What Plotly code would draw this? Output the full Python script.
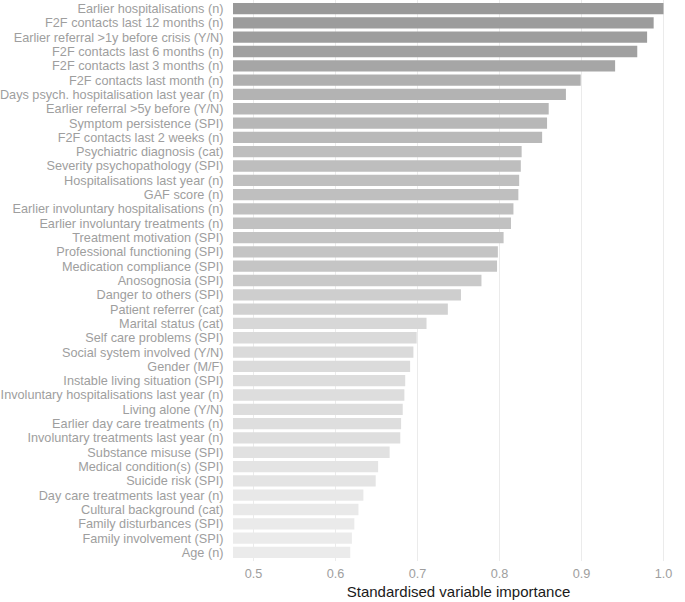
import plotly.graph_objs as go

# variables, top to bottom
variables = [
    'Earlier hospitalisations (n)',
    'F2F contacts last 12 months (n)',
    'Earlier referral >1y before crisis (Y/N)',
    'F2F contacts last 6 months (n)',
    'F2F contacts last 3 months (n)',
    'F2F contacts last month (n)',
    'Days psych. hospitalisation last year (n)',
    'Earlier referral >5y before (Y/N)',
    'Symptom persistence (SPI)',
    'F2F contacts last 2 weeks (n)',
    'Psychiatric diagnosis (cat)',
    'Severity psychopathology (SPI)',
    'Hospitalisations last year (n)',
    'GAF score (n)',
    'Earlier involuntary hospitalisations (n)',
    'Earlier involuntary treatments (n)',
    'Treatment motivation (SPI)',
    'Professional functioning (SPI)',
    'Medication compliance (SPI)',
    'Anosognosia (SPI)',
    'Danger to others (SPI)',
    'Patient referrer (cat)',
    'Marital status (cat)',
    'Self care problems (SPI)',
    'Social system involved (Y/N)',
    'Gender (M/F)',
    'Instable living situation (SPI)',
    'Involuntary hospitalisations last year (n)',
    'Living alone (Y/N)',
    'Earlier day care treatments (n)',
    'Involuntary treatments last year (n)',
    'Substance misuse (SPI)',
    'Medical condition(s) (SPI)',
    'Suicide risk (SPI)',
    'Day care treatments last year (n)',
    'Cultural background (cat)',
    'Family disturbances (SPI)',
    'Family involvement (SPI)',
    'Age (n)',
]

importance = [
    1.000, 0.988, 0.980, 0.968, 0.941, 0.899, 0.881, 0.860, 0.858, 0.852,
    0.827, 0.826, 0.824, 0.823, 0.817, 0.814, 0.805, 0.798, 0.797, 0.778,
    0.753, 0.737, 0.711, 0.699, 0.695, 0.691, 0.685, 0.684, 0.682, 0.680,
    0.679, 0.666, 0.652, 0.649, 0.634, 0.628, 0.623, 0.620, 0.618,
]

x_ticks = [0.5, 0.6, 0.7, 0.8, 0.9, 1.0]

fig = go.Figure()
fig.add_trace(go.Bar(
    x=importance, y=variables, orientation='h', width=0.79,
    marker={'color': importance,
            'colorscale': [[0, '#ebebeb'], [1, '#999999']],
            'line': {'width': 0}},
    showlegend=False,
))

fig.update_layout(
    width=685, height=602,
    margin={'l': 233, 'r': 1, 't': 0, 'b': 41},
    paper_bgcolor='white', plot_bgcolor='white',
    font={'family': 'Liberation Sans, Arial', 'size': 12.7, 'color': '#9e9e9e'},
    xaxis={'range': [0.475, 1.025], 'tickvals': x_ticks,
           'ticktext': ['%.1f' % t for t in x_ticks],
           'showgrid': True, 'gridcolor': '#ebebeb', 'gridwidth': 1,
           'zeroline': False, 'showline': False, 'automargin': False,
           'ticks': 'outside', 'ticklen': 1, 'tickcolor': 'rgba(0,0,0,0)',
           'title': {'text': 'Standardised variable importance',
                     'font': {'size': 15, 'color': '#1a1a1a'},
                     'standoff': 6}},
    yaxis={'range': [38.6, -0.6], 'showgrid': False, 'zeroline': False,
           'automargin': False,
           'tickmode': 'array', 'tickvals': variables,
           'ticks': 'outside', 'ticklen': 6, 'tickcolor': 'rgba(0,0,0,0)',
           'categoryorder': 'array', 'categoryarray': variables},
)

# page has a default 8px body margin, drop it so the figure fills the window
fig.write_html('out.html', config={'displayModeBar': False},
               post_script="document.body.style.margin='0';")
